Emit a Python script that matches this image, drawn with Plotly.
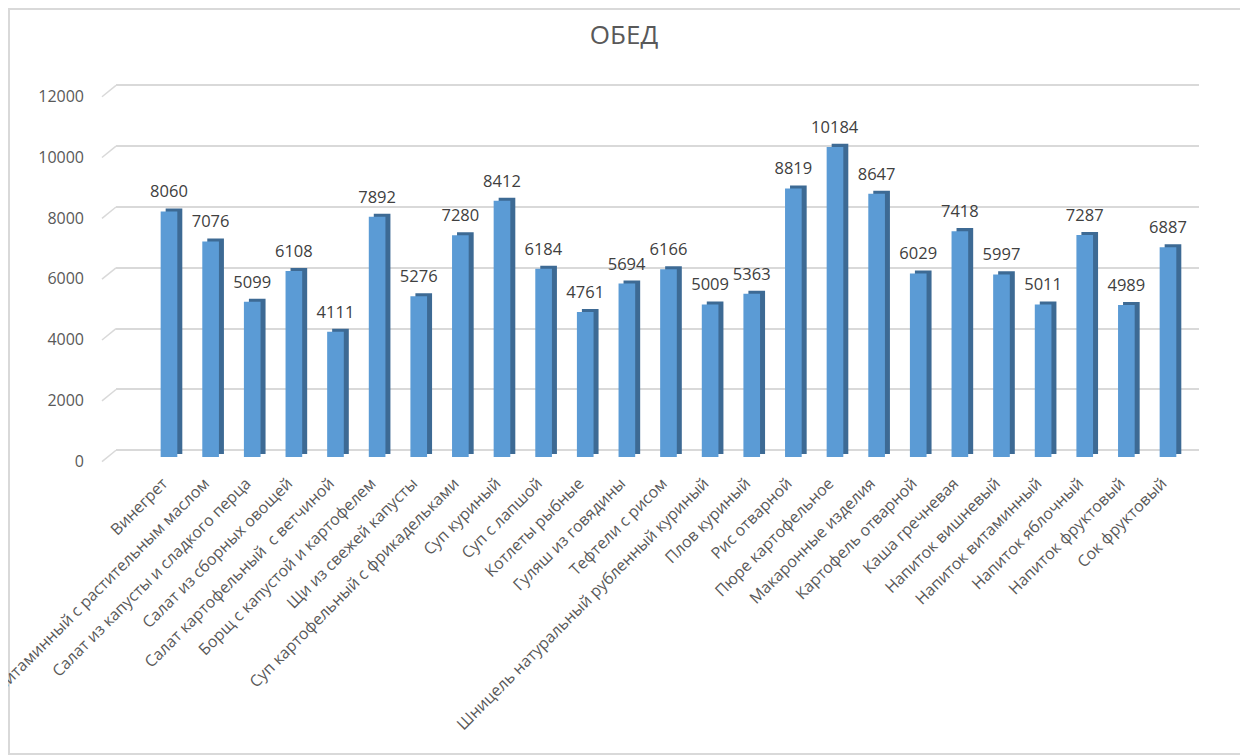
import plotly.graph_objects as go

categories = [
    "Винегрет",
    "Салат витаминный с растительным маслом",
    "Салат из капусты и сладкого перца",
    "Салат из сборных овощей",
    "Салат картофельный  с ветчиной",
    "Борщ с капустой и картофелем",
    "Щи из свежей капусты",
    "Суп картофельный с фрикадельками",
    "Суп куриный",
    "Суп с лапшой",
    "Котлеты рыбные",
    "Гуляш из говядины",
    "Тефтели с рисом",
    "Шницель натуральный рубленный куриный",
    "Плов куриный",
    "Рис отварной",
    "Пюре картофельное",
    "Макаронные изделия",
    "Картофель отварной",
    "Каша гречневая",
    "Напиток вишневый",
    "Напиток витаминный",
    "Напиток яблочный",
    "Напиток фруктовый",
    "Сок фруктовый",
]
values = [8060, 7076, 5099, 6108, 4111, 7892, 5276, 7280, 8412, 6184, 4761, 5694,
          6166, 5009, 5363, 8819, 10184, 8647, 6029, 7418, 5997, 5011, 7287, 4989, 6887]
y_ticks = [0, 2000, 4000, 6000, 8000, 10000, 12000]

FONT = "Open Sans"
TXT = "#595959"
GRID = "#D9D9D9"

W, H = 1240, 747
L, R, T, B = 108, 49, 76, 292
PW, PH = W - L - R, H - T - B
n = len(values)

fig = go.Figure()
# invisible trace that owns the labelled front axis
fig.add_trace(go.Scatter(x=[categories[0]], y=[0], mode="markers",
                         marker=dict(opacity=0), hoverinfo="skip", showlegend=False,
                         xaxis="x", yaxis="y"))
# invisible trace for the back-wall grid axis
fig.add_trace(go.Scatter(x=[categories[0]], y=[0], mode="markers",
                         marker=dict(opacity=0), hoverinfo="skip", showlegend=False,
                         xaxis="x", yaxis="y3"))
# side face (3D effect)
fig.add_trace(go.Bar(
    x=categories, y=values, base=[100] * n, yaxis="y2",
    width=0.4, offset=-0.08, marker=dict(color="#3D6A94", line=dict(width=0)),
    hoverinfo="skip", showlegend=False,
))
# front face
fig.add_trace(go.Bar(
    x=categories, y=values, yaxis="y2",
    width=0.4, offset=-0.2, marker=dict(color="#5B9BD5", line=dict(width=0)),
    showlegend=False,
))
# data labels (invisible carrier bar, lifted slightly)
fig.add_trace(go.Bar(
    x=categories, y=values, base=[200] * n, yaxis="y2",
    width=0.4, offset=-0.2, marker=dict(color="rgba(0,0,0,0)", line=dict(width=0)),
    text=[str(v) for v in values], textposition="outside", constraintext="none",
    textfont=dict(family=FONT, size=16.5, color="#404040"),
    cliponaxis=False, hoverinfo="skip", showlegend=False,
))

fig.update_layout(
    width=W, height=H,
    barmode="overlay",
    paper_bgcolor="white", plot_bgcolor="rgba(0,0,0,0)",
    margin=dict(l=L, r=R, t=T, b=B, autoexpand=False),
    title=dict(text="ОБЕД", x=616 / W, xanchor="center", y=1 - 27 / H, yanchor="middle",
               font=dict(family=FONT, size=26, color=TXT)),
    font=dict(family=FONT, color=TXT),
    xaxis=dict(
        type="category", range=[-1.273, 24.745], tickangle=-45,
        tickfont=dict(family=FONT, size=16, color=TXT),
        showgrid=False, showline=False, ticks="", automargin=False,
        ticklabelstandoff=7, ticklabelshift=-6,
    ),
    # front plane: tick labels
    yaxis=dict(
        range=[-43, 12394], tickvals=y_ticks, tickformat="d",
        showgrid=False, zeroline=False, showline=False,
        tickfont=dict(family=FONT, size=16, color=TXT),
        ticklabelstandoff=31, automargin=False,
    ),
    # bars
    yaxis2=dict(
        range=[-197, 12250], overlaying="y", showgrid=False, zeroline=False,
        showticklabels=False, showline=False,
    ),
    # back wall: gridlines
    yaxis3=dict(
        range=[-418, 12043], overlaying="y", tickvals=y_ticks, showgrid=True,
        gridcolor=GRID, gridwidth=1.5, zeroline=False, showticklabels=False, showline=False,
        layer="below traces",
    ),
)

# perspective wall edges joining tick level to gridline level
for v in y_ticks:
    fig.add_shape(type="line", xref="paper", yref="y3",
                  x0=-14 / PW, x1=0, y0=v - 375, y1=v,
                  line=dict(color=GRID, width=1.5), layer="below")

# outer frame of the chart
fig.add_shape(type="rect", xref="paper", yref="paper",
              x0=(1 - L) / PW, x1=(W - 1 - L) / PW, y0=-(B - 1) / PH, y1=1 + (T - 1) / PH,
              line=dict(color="#D9D9D9", width=2), fillcolor="rgba(0,0,0,0)", layer="below")

fig.write_html("out.html")
